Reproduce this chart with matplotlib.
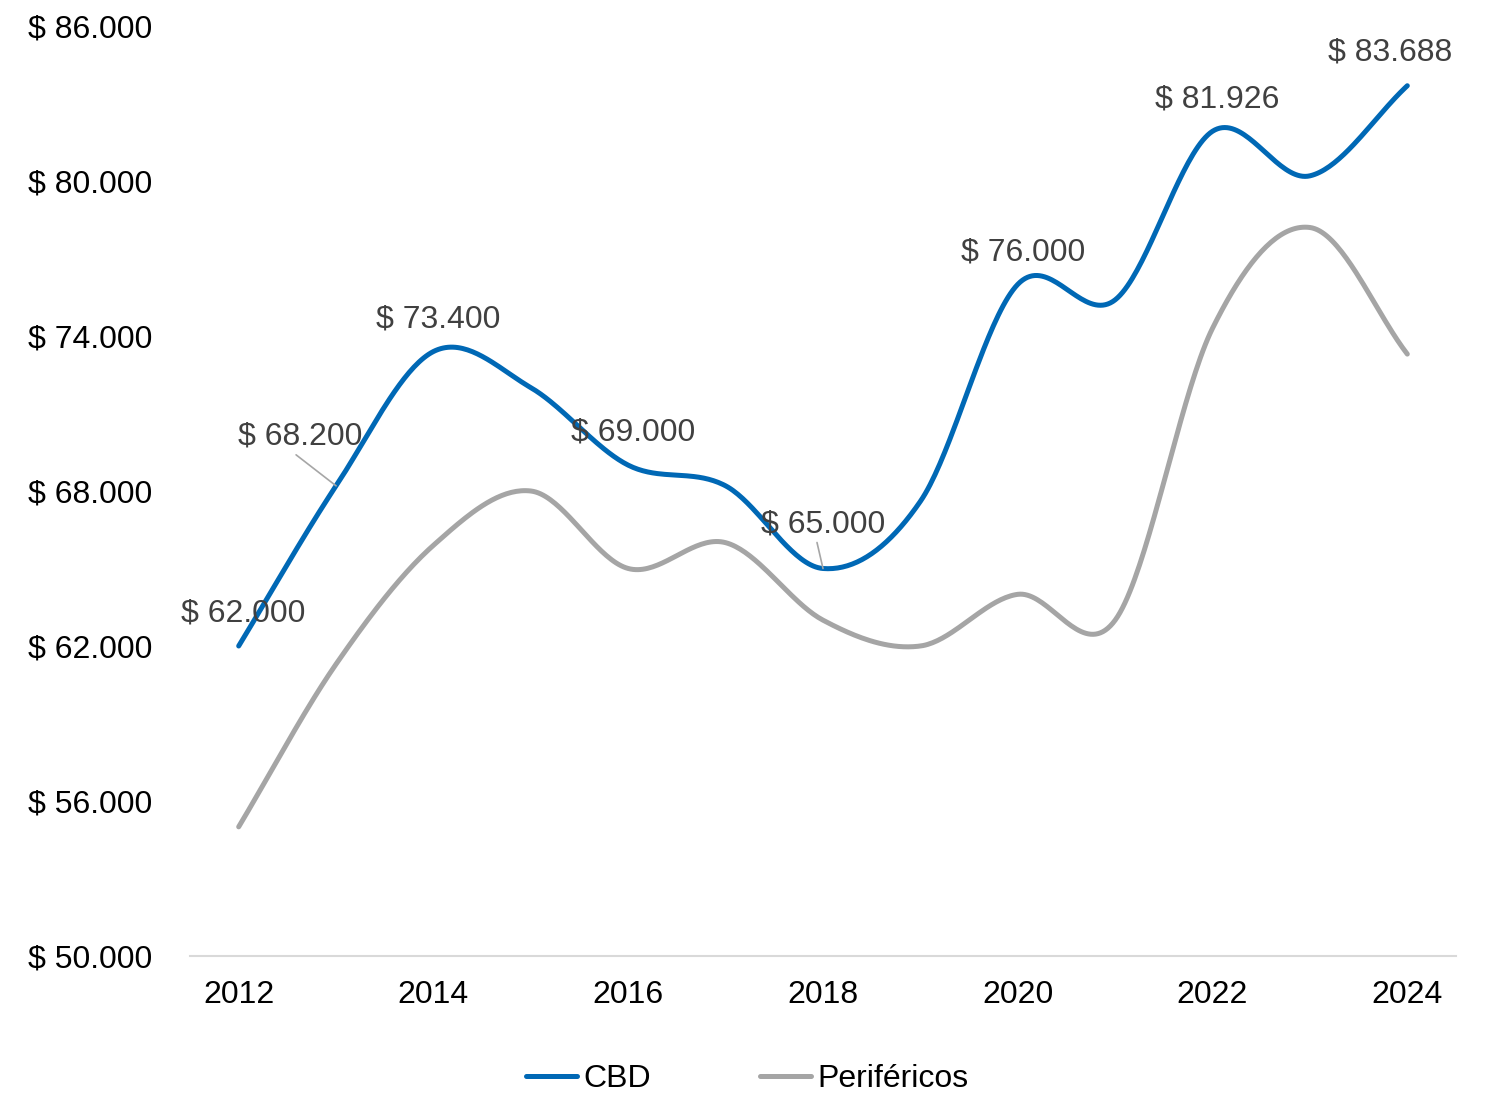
import numpy as np
import matplotlib.pyplot as plt
from matplotlib.ticker import FuncFormatter

plt.rcParams['font.family'] = ['Liberation Sans', 'DejaVu Sans']

years = np.arange(2012, 2025)
cbd = [62000, 68200, 73400, 72000, 69000, 68200, 65000, 67600, 76000, 75400, 81926, 80200, 83688]
perifericos = [55000, 61300, 65900, 68000, 65000, 66000, 63000, 62000, 64000, 63000, 74300, 78200, 73300]

# data labels shown on the CBD series: year -> offset (px) of label centre, leader start
label_years = [2012, 2013, 2014, 2016, 2018, 2020, 2022, 2024]
label_offsets = [(4, 33), (-36, 49), (5, 32), (5, 33), (0, 44), (5, 32), (5, 32), (-17, 33)]
leader_starts = [None, (-40, 31), None, None, (-6, 26), None, None, None]


def smooth(x, y, n=40):
    # Catmull-Rom style curve through the points (like Excel's smoothed line)
    x = np.asarray(x, float)
    y = np.asarray(y, float)
    px = np.concatenate([[2 * x[0] - x[1]], x, [2 * x[-1] - x[-2]]])
    py = np.concatenate([[2 * y[0] - y[1]], y, [2 * y[-1] - y[-2]]])
    xs, ys = [], []
    t = np.linspace(0, 1, n, endpoint=False)
    for i in range(1, len(px) - 2):
        for p, out in ((px, xs), (py, ys)):
            p0, p1, p2, p3 = p[i - 1], p[i], p[i + 1], p[i + 2]
            c1 = p1 + (p2 - p0) / 6
            c2 = p2 - (p3 - p1) / 6
            out.append((1 - t) ** 3 * p1 + 3 * (1 - t) ** 2 * t * c1
                       + 3 * (1 - t) * t ** 2 * c2 + t ** 3 * p2)
    xs.append([x[-1]])
    ys.append([y[-1]])
    return np.concatenate(xs), np.concatenate(ys)


fig = plt.figure(figsize=(14.95, 10.94), dpi=100)
ax = fig.add_axes([190 / 1495, 1 - 956 / 1094, 1266 / 1495, 930 / 1094])

sx, sy = smooth(years, cbd)
ax.plot(sx, sy, color='#0068B5', lw=3.6, solid_capstyle='round', label='CBD', zorder=3)
sx, sy = smooth(years, perifericos)
ax.plot(sx, sy, color='#A5A5A5', lw=3.6, solid_capstyle='round', label='Periféricos', zorder=2)

for yr, off, lead in zip(label_years, label_offsets, leader_starts):
    v = cbd[yr - 2012]
    txt = '$ ' + f'{v:,}'.replace(',', '.')
    ax.annotate(txt, (yr, v), xytext=off, textcoords='offset pixels',
                ha='center', va='center', fontsize=23, color='#404040', zorder=4)
    if lead:
        ax.annotate('', (yr, v), xytext=lead, textcoords='offset pixels', zorder=4,
                    arrowprops=dict(arrowstyle='-', color='#A6A6A6', lw=1.2,
                                    shrinkA=0, shrinkB=0))

ax.set_xlim(2011.5, 2024.5)
ax.set_ylim(50000, 86000)
ax.set_yticks(np.arange(50000, 86001, 6000))
ax.set_xticks(years[::2])
ax.yaxis.set_major_formatter(FuncFormatter(lambda v, p: '$ ' + f'{int(v):,}'.replace(',', '.')))
ax.tick_params(axis='y', length=0, pad=27, labelsize=23)
ax.tick_params(axis='x', length=0, pad=17, labelsize=23)
for s in ['top', 'right', 'left']:
    ax.spines[s].set_visible(False)
ax.spines['bottom'].set_color('#D9D9D9')
ax.spines['bottom'].set_linewidth(1.5)

fig.legend(loc='center', bbox_to_anchor=(747 / 1495, 1 - 1079 / 1094), ncol=2, frameon=False,
           fontsize=23, handlelength=1.6, handletextpad=0.2, columnspacing=3.4)

fig.savefig('out.png', dpi=100)
